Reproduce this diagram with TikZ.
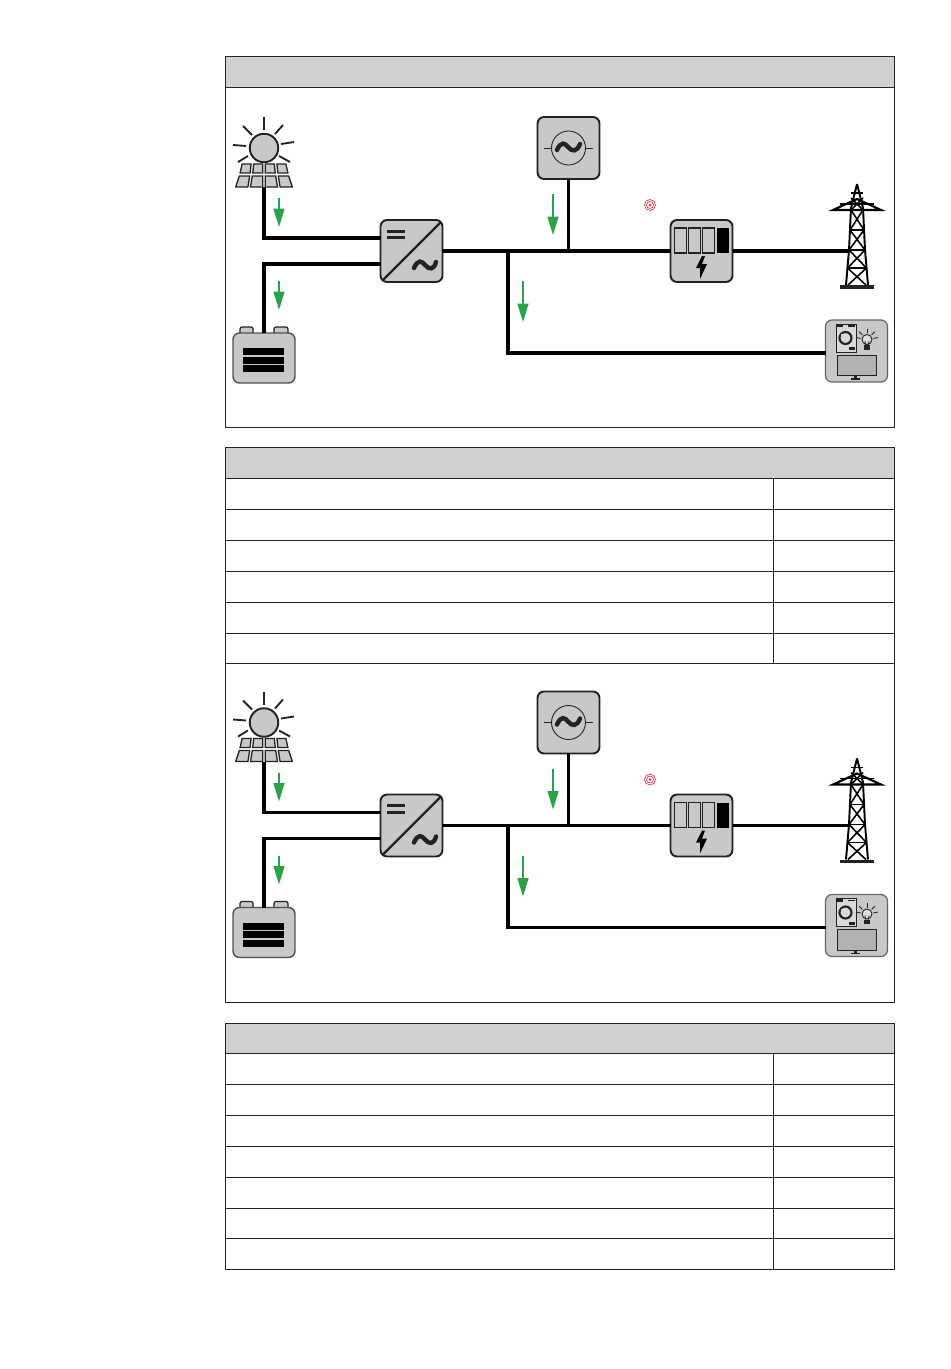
\documentclass[tikz,border=0pt]{standalone}
\usepackage{tikz}
\usetikzlibrary{arrows.meta,calc}
\definecolor{hdgray}{HTML}{D0D0D0}
\definecolor{icgray}{HTML}{C8C8C8}
\definecolor{flowgreen}{HTML}{2BA24A}
\definecolor{frameblack}{HTML}{222222}
\definecolor{targetred}{HTML}{E8203A}
\begin{document}
\begin{tikzpicture}[
  x=0.02cm, y=-0.02cm,
  frame/.style={draw=frameblack, line width=0.55pt},
  hdcell/.style={frame, fill=hdgray},
  iconbox/.style={draw=frameblack, fill=icgray, line width=1.1pt, rounded corners=0.13cm, minimum size=1.24cm, inner sep=0pt, outer sep=0pt},
  bus/.style={line width=2.1pt, color=black},
  flow/.style={-{Triangle[length=10.5pt, width=6.2pt]}, line width=1.1pt, color=flowgreen},
  thinline/.style={line width=0.5pt, color=frameblack},
  wave/.style={line width=2.5pt, color=frameblack, line cap=round},
  ray/.style={line width=1.05pt, color=frameblack},
  lattice/.style={line width=0.9pt, color=black}
]
\useasboundingbox (0,0) rectangle (950,1369);
% top panel
\draw[frame] (225,56) rectangle (894,427);
\draw[hdcell] (225,56) rectangle (894,87);
% first table
\draw[hdcell] (225,447) rectangle (894,478);
\draw[frame] (225,478) rectangle (894,1002);
\draw[frame] (773,478) -- (773,663);
\foreach \y in {509,540,571,602,633,663}
  \draw[frame] (225,\y) -- (894,\y);
% second table
\draw[hdcell] (225,1023) rectangle (894,1053);
\draw[frame] (225,1053) rectangle (894,1269);
\draw[frame] (773,1053) -- (773,1269);
\foreach \y in {1084,1115,1146,1177,1208,1238}
  \draw[frame] (225,\y) -- (894,\y);
% the two plant diagrams
\foreach \dy/\pre in {0/a,574.5/b}{
\begin{scope}[shift={(0,\dy)}]
  % sun and panels
  \node[circle, draw=frameblack, fill=icgray, line width=1.1pt, minimum size=0.57cm, inner sep=0pt] (\pre sun) at (264,148) {};
  \draw[ray] (264,117) -- (264,130);
  \draw[ray] (243,126) -- (252,135);
  \draw[ray] (283,125) -- (275,134);
  \draw[ray] (233,145) -- (246,146);
  \draw[ray] (281,144) -- (294,142);
  \draw[ray] (238,162) -- (248,156);
  \draw[ray] (290,162) -- (279,156);
  \foreach \u in {-2,-1,0,1}{
    \draw[line width=0.75pt, draw=frameblack, fill=icgray]
      ({264+\u*11.6+1.3},164) -- ({264+(\u+1)*11.6-1.3},164) -- ({264+(\u+1)*12.6-1.3},173) -- ({264+\u*12.6+1.3},173) -- cycle;
    \draw[line width=0.75pt, draw=frameblack, fill=icgray]
      ({264+\u*13+1.3},176) -- ({264+(\u+1)*13-1.3},176) -- ({264+(\u+1)*14.8-1.3},187) -- ({264+\u*14.8+1.3},187) -- cycle;
  }
  \coordinate (\pre pv) at (264,187);
  % battery
  \draw[iconbox, rounded corners=0.04cm, line width=0.7pt] (240,334) -- (240,327) -- (253,327) -- (253,334);
  \draw[iconbox, rounded corners=0.04cm, line width=0.7pt] (274,334) -- (274,327) -- (288,327) -- (288,334);
  \node[iconbox, draw=frameblack!80, line width=0.8pt, minimum width=1.24cm, minimum height=1cm] (\pre bat) at (264,358) {};
  \foreach \y in {348,356.5,365}
    \fill[black] (243,\y) rectangle (284,{\y+7});
  % inverter
  \node[iconbox] (\pre inv) at (411.5,251) {};
  \draw[line width=1.3pt, color=frameblack] (383,280) -- (441,222);
  \fill[frameblack] (387,229.5) rectangle (405,232.5);
  \fill[frameblack] (387,236) rectangle (405,239);
  \draw[wave] (414,268) .. controls (418,259) and (422,261) .. (425,265) .. controls (429,270) and (434,270) .. (436,262);
  % generator
  \node[iconbox] (\pre gen) at (568.5,148) {};
  \node[circle, draw=frameblack, line width=0.5pt, minimum size=0.68cm, inner sep=0pt] (\pre genc) at (568.5,148) {};
  \draw[thinline] (544,148) -- (\pre genc.west);
  \draw[thinline] (\pre genc.east) -- (593,148);
  \draw[wave] (557,150) .. controls (561,141) and (565,143) .. (568,147) .. controls (572,152) and (577,152) .. (580,144);
  % meter
  \node[iconbox] (\pre met) at (701.5,251) {};
  \foreach \x in {674.5,688.5,702.5}
    \draw[thinline, line width=0.65pt] (\x,228) rectangle ({\x+12},253);
  \fill[black] (717,228) rectangle (729,253);
  \fill[black] (702,256) -- (696,268) -- (700,268) -- (700,279) -- (707,264) -- (702,264) -- (705,256) -- cycle;
  % target mark
  \foreach \r in {5.5,3.5}
    \draw[targetred, line width=0.35pt] (650,205) circle[radius=\r];
  \fill[targetred] (650,205) circle[radius=1.4];
  % pylon
  \draw[lattice, line width=1.1pt] (857,184) -- (851,208) -- (849,250) -- (846,285);
  \draw[lattice, line width=1.1pt] (857,184) -- (863,208) -- (865,250) -- (868,285);
  \fill[frameblack] (840,285) rectangle (874,288.5);
  \draw[lattice, line width=1.2pt] (833,210) -- (857,199) -- (881,210) -- cycle;
  \draw[lattice] (840,204) -- (874,204);
  \draw[lattice] (851,193) -- (863,193);
  \draw[lattice] (851,210) -- (863,198) (863,210) -- (851,198);
  \foreach \ya/\yb/\ha/\hb in {210/230/6/7,230/250/7/8,250/268/8/9.5}{
    \draw[lattice] ({857-\ha},\ya) -- ({857+\hb},\yb);
    \draw[lattice] ({857+\ha},\ya) -- ({857-\hb},\yb);
    \draw[lattice] ({857-\hb},\yb) -- ({857+\hb},\yb);
  }
  \draw[lattice] (847.5,268) -- (866,285) (866.5,268) -- (848,285);
  \coordinate (\pre grid) at (848,251);
  % load
  \node[iconbox, draw=gray!80!black, line width=0.7pt] (\pre load) at (856.5,351) {};
  \draw[thinline, fill=icgray!70] (836,324) rectangle (856,352);
  \fill[frameblack] (836,324) rectangle (843,327);
  \fill[frameblack] (848,325) rectangle (855,326.5);
  \fill[frameblack] (849,347) rectangle (855,350);
  \draw[line width=1.2pt, color=frameblack] (845.5,338) circle[radius=6];
  \fill[icgray!70] (841,334) rectangle (844.5,337);
  \draw[thinline, fill=gray!60] (837,355) rectangle (876,375.5);
  \fill[frameblack] (854,375.5) rectangle (857,378);
  \fill[frameblack] (851,378) rectangle (860,379.5);
  \draw[thinline, fill=icgray!60] (867,339.5) circle[radius=5];
  \draw[thinline] (865,341) -- (865.5,345) (869,341) -- (868.5,345);
  \fill[frameblack] (864,345) rectangle (870,349.5);
  \foreach \a in {-170,-135,-90,-45,-10}
    \draw[thinline] ($(867,339.5)+(\a:6.5)$) -- ($(867,339.5)+(\a:11)$);
  % connectors
  \coordinate (\pre pvk) at (264,238);
  \coordinate (\pre batk) at (264,264);
  \coordinate (\pre busk) at (508,251);
  \coordinate (\pre loadk) at (508,353);
  \draw[bus] (\pre pv) -- (\pre pvk) -- (\pre inv.west |- \pre pvk);
  \draw[bus] (\pre bat.north) -- (\pre batk) -- (\pre inv.west |- \pre batk);
  \draw[bus] (\pre inv.east) -- (\pre met.west);
  \draw[bus] (\pre gen.south) -- (\pre gen.south |- \pre inv.east);
  \draw[bus] (\pre met.east) -- (\pre grid);
  \draw[bus] (\pre busk) -- (\pre loadk) -- (\pre load.west |- \pre loadk);
  % flow arrows
  \foreach \n/\x/\ya/\yb in {1/279/198/227,2/279/281/310,3/553/194/235,4/523/281/322}{
    \coordinate (\pre f\n a) at (\x,\ya);
    \coordinate (\pre f\n b) at (\x,\yb);
    \draw[flow] (\pre f\n a) -- (\pre f\n b);
  }
\end{scope}
}
\end{tikzpicture}
\end{document}
